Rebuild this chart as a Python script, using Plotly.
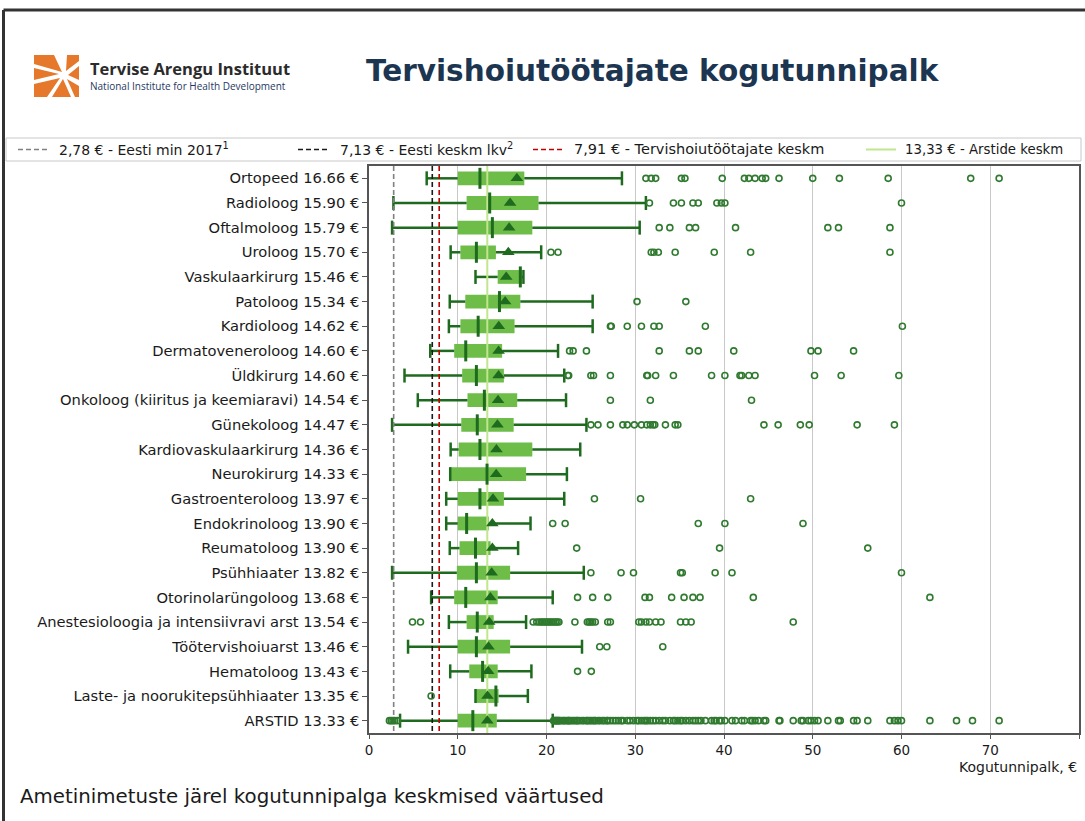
import plotly.graph_objects as go

W, H = 1085, 821

# ---------------- data ----------------
names = ["Ortopeed", "Radioloog", "Oftalmoloog", "Uroloog", "Vaskulaarkirurg", "Patoloog",
         "Kardioloog", "Dermatoveneroloog", "Üldkirurg", "Onkoloog (kiiritus ja keemiaravi)",
         "Günekoloog", "Kardiovaskulaarkirurg", "Neurokirurg", "Gastroenteroloog",
         "Endokrinoloog", "Reumatoloog", "Psühhiaater", "Otorinolarüngoloog",
         "Anestesioloogia ja intensiivravi arst", "Töötervishoiuarst", "Hematoloog",
         "Laste- ja noorukitepsühhiaater", "ARSTID"]
means = [16.66, 15.90, 15.79, 15.70, 15.46, 15.34, 14.62, 14.60, 14.60, 14.54, 14.47, 14.36,
         14.33, 13.97, 13.90, 13.90, 13.82, 13.68, 13.54, 13.46, 13.43, 13.35, 13.33]
whisker_low = [6.5, 2.75, 2.6, 9.2, 12.0, 9.1, 9.0, 6.9, 4.0, 5.5, 2.6, 9.2, 9.15, 8.7, 8.7,
               9.1, 2.6, 7.0, 9.0, 4.4, 9.15, 12.0, 3.5]
q1 = [10.0, 11.0, 10.0, 10.3, 14.5, 10.85, 10.3, 9.6, 10.5, 11.1, 10.4, 10.1, 9.15, 10.0, 10.0,
      10.2, 9.9, 9.6, 11.0, 10.0, 11.3, 12.05, 10.0]
median = [12.5, 13.6, 13.9, 12.1, 17.05, 14.7, 12.3, 10.9, 12.1, 13.0, 12.2, 12.5, 13.3, 12.5,
          11.0, 12.0, 12.1, 10.9, 12.2, 12.1, 12.8, 14.3, 11.7]
q3 = [17.5, 19.1, 18.4, 14.3, 17.25, 17.05, 16.4, 15.0, 15.2, 16.7, 16.3, 18.4, 17.7, 15.2,
      13.5, 13.7, 15.9, 14.5, 14.05, 15.9, 14.5, 14.6, 14.4]
whisker_high = [28.5, 31.2, 30.5, 19.4, 17.4, 25.2, 25.2, 21.3, 22.0, 22.2, 24.5, 23.8, 22.3,
                22.0, 18.2, 16.8, 24.2, 20.7, 17.7, 24.0, 18.3, 17.9, 20.7]
outliers = [
    [31.2, 31.8, 32.3, 35.2, 35.6, 39.8, 42.3, 42.8, 43.5, 44.3, 44.7, 46.2, 50.0, 53.0, 58.5, 67.8, 71.0],
    [31.6, 34.3, 35.2, 36.5, 37.1, 39.2, 39.7, 40.1, 60.0],
    [32.7, 33.9, 36.1, 36.8, 41.3, 51.7, 52.9, 58.7],
    [20.5, 21.3, 31.8, 32.1, 32.6, 34.5, 38.9, 43.0, 58.7],
    [],
    [30.2, 35.7],
    [27.2, 27.3, 29.1, 30.7, 32.1, 32.7, 37.9, 60.1],
    [22.6, 23.0, 24.5, 32.7, 36.1, 37.1, 41.1, 49.8, 50.6, 54.6],
    [22.4, 22.5, 25.0, 25.3, 27.2, 31.3, 31.4, 32.3, 34.3, 38.6, 40.1, 41.8, 42.0, 42.8, 43.5, 50.2, 53.2, 59.7],
    [27.2, 31.7, 43.1],
    [25.0, 25.8, 27.2, 28.6, 29.1, 29.9, 30.7, 31.3, 31.7, 32.0, 32.2, 33.4, 34.5, 34.8, 44.5, 46.1, 48.6, 49.6, 55.0, 59.2],
    [],
    [],
    [25.4, 30.6, 43.0],
    [20.7, 22.1, 37.1, 40.1, 48.9],
    [23.4, 39.5, 56.2],
    [25.0, 28.4, 29.8, 35.1, 35.3, 39.0, 40.9, 60.0],
    [23.5, 25.2, 26.9, 31.1, 31.6, 34.1, 35.5, 36.5, 37.3, 43.3, 63.2],
    [4.9, 5.8, 18.5, 18.9, 19.2, 19.4, 19.6, 19.8, 20.0, 20.2, 20.4, 20.6, 20.8, 21.0, 21.2, 21.4,
     23.2, 24.6, 24.8, 25.0, 25.2, 25.5, 26.9, 27.2, 30.4, 30.7, 31.2, 31.6, 32.3, 32.9, 35.1, 35.7, 36.3, 47.8],
    [26.0, 26.8, 33.1],
    [23.5, 25.05],
    [7.0],
    [2.3, 2.5, 2.7, 2.9, 3.2,
     20.8, 20.9, 21.0, 21.1, 21.2, 21.3, 21.4, 21.5, 21.7, 21.9, 22.0, 22.2, 22.4, 22.5, 22.6, 22.8,
     23.0, 23.2, 23.4, 23.5, 23.7, 24.0, 24.2, 24.5, 24.6, 24.8, 25.0, 25.2, 25.4, 25.5, 25.8, 26.0,
     26.3, 26.5, 26.8, 26.9, 27.2, 27.5, 27.8, 28.1, 28.4, 28.6, 29.1, 29.4, 29.8, 30.2, 30.4, 30.7,
     31.0, 31.2, 31.4, 31.7, 32.0, 32.3, 32.7, 33.1, 33.4, 33.9, 34.3, 34.5, 34.8, 35.1, 35.3, 35.7,
     36.1, 36.5, 36.8, 37.1, 37.4, 37.9, 38.6, 38.9, 39.1, 39.5, 39.7, 40.1, 40.9, 41.3, 42.0, 42.3,
     43.0, 43.2, 43.5, 43.9, 44.5, 44.7, 46.2, 46.3, 47.8, 48.7, 48.9, 49.5, 49.8, 50.2, 50.6, 51.7,
     52.9, 53.1, 54.6, 55.0, 56.2, 58.7, 59.2, 59.6, 60.0, 63.2, 66.2, 68.0, 71.0],
]
ref_values = [2.78, 7.13, 7.91, 13.33]
ref_texts = ["2,78 € - Eesti min 2017<sup>1</sup>", "7,13 € - Eesti keskm lkv<sup>2</sup>",
             "7,91 € - Tervishoiutöötajate keskm", "13,33 € - Arstide keskm"]
x_ticks = [0, 10, 20, 30, 40, 50, 60, 70, 80]

# ---------------- styles ----------------
BOX = "#6dbd48"
DARK = "#1e6a1e"
OUT = "#2f7a2f"
GREEN_LINE = "#c0e68e"
ref_colors = ["#808080", "#1a1a1a", "#c00000", GREEN_LINE]
ref_dash = ["5px,3px", "5px,3px", "5px,3px", "solid"]
FONT = "DejaVu Sans"


def px(x, y):
    return x / W, 1 - y / H


labels = [f"{n} {m:.2f} €" for n, m in zip(names, means)]
ypos = list(range(len(names)))
n = len(names)

fig = go.Figure()

# box body
fig.add_trace(go.Bar(
    y=ypos, x=[b - a for a, b in zip(q1, q3)], base=q1, orientation="h",
    width=0.56, marker=dict(color=BOX, line=dict(width=0)), hoverinfo="skip"))

# whiskers
wx, wy = [], []
for i in range(n):
    wx += [whisker_low[i], q1[i], None, q3[i], whisker_high[i], None]
    wy += [ypos[i], ypos[i], None, ypos[i], ypos[i], None]
fig.add_trace(go.Scatter(x=wx, y=wy, mode="lines", line=dict(color=DARK, width=2.5),
                         hoverinfo="skip"))
# caps
fig.add_trace(go.Scatter(
    x=whisker_low + whisker_high, y=ypos + ypos, mode="markers",
    marker=dict(symbol="line-ns", size=10, line=dict(color=DARK, width=2.5)), hoverinfo="skip"))

# reference vertical lines
for v, c, d in zip(ref_values, ref_colors, ref_dash):
    fig.add_trace(go.Scatter(x=[v, v], y=[-0.5, n - 0.5], mode="lines",
                             line=dict(color=c, width=2 if d == "solid" else 1.6, dash=d),
                             hoverinfo="skip"))

# medians
fig.add_trace(go.Scatter(
    x=median, y=ypos, mode="markers",
    marker=dict(symbol="line-ns", size=15, line=dict(color=DARK, width=3)), hoverinfo="skip"))
# means
fig.add_trace(go.Scatter(
    x=means, y=ypos, mode="markers",
    marker=dict(symbol="triangle-up", size=11, color=DARK), hoverinfo="skip"))
# outliers
ox, oy = [], []
for i in range(n):
    ox += outliers[i]
    oy += [ypos[i]] * len(outliers[i])
fig.add_trace(go.Scatter(
    x=ox, y=oy, mode="markers",
    marker=dict(symbol="circle-open", size=6, color=OUT, line=dict(color=OUT, width=1.6)),
    hoverinfo="skip"))

PL, PR, PT, PB = 369, 1079, 166, 733

fig.update_layout(
    width=W, height=H, margin=dict(l=0, r=0, t=0, b=0),
    paper_bgcolor="white", plot_bgcolor="white", showlegend=False,
    font=dict(family=FONT, color="#1a1a1a"),
    xaxis=dict(domain=[PL / W, PR / W], range=[0, 80], tickvals=x_ticks,
               showgrid=True, gridcolor="#c8c8c8", gridwidth=1, zeroline=False,
               showline=True, linecolor="#555555", linewidth=1.5, mirror=True,
               ticks="outside", ticklen=4, tickcolor="#555555",
               tickfont=dict(size=13.5, family=FONT, color="#1a1a1a"), automargin=False),
    yaxis=dict(domain=[1 - PB / H, 1 - PT / H], range=[n - 0.5, -0.5],
               tickvals=ypos, ticktext=labels, showgrid=False, zeroline=False,
               showline=True, linecolor="#555555", linewidth=1.5, mirror=True,
               ticks="outside", ticklen=5, tickcolor="#555555",
               tickfont=dict(size=14.7, family=FONT, color="#1a1a1a"), automargin=False),
)

shapes = []
ann = []

# outer frame (left + top)
shapes.append(dict(type="line", xref="paper", yref="paper", x0=px(3.5, 0)[0], x1=px(3.5, 0)[0],
                   y0=px(0, 10)[1], y1=0, line=dict(color="#333333", width=3)))
shapes.append(dict(type="line", xref="paper", yref="paper", x0=px(3.5, 0)[0], x1=1,
                   y0=px(0, 10)[1], y1=px(0, 10)[1], line=dict(color="#333333", width=3)))

# logo (stylised)
ORANGE = "#e5782a"
logo_polys = [
    [(34, 55), (54, 55), (62, 72), (34, 64)],
    [(67, 55), (79, 55), (79, 61), (66, 71)],
    [(79, 66), (79, 80), (68, 75)],
    [(34, 68), (34, 80), (59, 74)],
    [(34, 84), (34, 97), (47, 97), (60, 78)],
    [(52, 97), (63, 79), (71, 97)],
    [(75, 97), (79, 97), (79, 86), (67, 79)],
]
for poly in logo_polys:
    pts = [px(x, y) for x, y in poly]
    path = "M " + " L ".join(f"{a:.5f},{b:.5f}" for a, b in pts) + " Z"
    shapes.append(dict(type="path", xref="paper", yref="paper", path=path,
                       fillcolor=ORANGE, line=dict(width=0)))

ann.append(dict(x=px(88, 0)[0], y=px(0, 68)[1], xref="paper", yref="paper",
                text="<b>Tervise Arengu Instituut</b>", showarrow=False, xanchor="left",
                yanchor="middle", font=dict(size=16.5, family="Open Sans", color="#2b2b2b")))
ann.append(dict(x=px(88, 0)[0], y=px(0, 86)[1], xref="paper", yref="paper",
                text="National Institute for Health Development", showarrow=False,
                xanchor="left", yanchor="middle", font=dict(size=10, family="Open Sans", color="#1f3864")))
# title
ann.append(dict(x=px(364, 0)[0], y=px(0, 71)[1], xref="paper", yref="paper",
                text="<b>Tervishoiutöötajate kogutunnipalk</b>", showarrow=False,
                xanchor="left", yanchor="middle", font=dict(size=29.5, family=FONT, color="#1c3550")))

# legend box
LT, LB = 138, 161
x0, y0 = px(6, LB)
x1, y1 = px(1081, LT)
shapes.append(dict(type="rect", xref="paper", yref="paper", x0=x0, y0=y0, x1=x1, y1=y1,
                   line=dict(color="#c8c8c8", width=1), fillcolor="white"))
LY = (LT + LB) / 2
leg_pos = [(18, 50, 57), (298, 330, 338), (533, 565, 572), (866, 896, 903)]
leg_size = [14, 14, 14.5, 13.3]
for (la, lb, tx), c, d, t, fs in zip(leg_pos, ref_colors, ref_dash, ref_texts, leg_size):
    shapes.append(dict(type="line", xref="paper", yref="paper",
                       x0=px(la, 0)[0], x1=px(lb, 0)[0], y0=px(0, LY)[1], y1=px(0, LY)[1],
                       line=dict(color=c, width=2 if d == "solid" else 1.6, dash=d)))
    ann.append(dict(x=px(tx, 0)[0], y=px(0, LY)[1], xref="paper", yref="paper", text=t,
                    showarrow=False, xanchor="left", yanchor="middle",
                    font=dict(size=fs, family=FONT, color="#1a1a1a")))

# x-axis title
ann.append(dict(x=px(PR, 0)[0], y=px(0, 767)[1], xref="paper", yref="paper",
                text="Kogutunnipalk, €", showarrow=False, xanchor="right", yanchor="middle",
                font=dict(size=14, family=FONT, color="#1a1a1a")))
# footnote
ann.append(dict(x=px(18, 0)[0], y=px(0, 796)[1], xref="paper", yref="paper",
                text="Ametinimetuste järel kogutunnipalga keskmised väärtused", showarrow=False,
                xanchor="left", yanchor="middle", font=dict(size=19.8, family=FONT, color="#1a1a1a")))

fig.update_layout(shapes=shapes, annotations=ann)
fig.write_html("out.html", config={"displayModeBar": False},
               post_script="document.body.style.margin='0px';document.body.style.overflow='hidden';")
